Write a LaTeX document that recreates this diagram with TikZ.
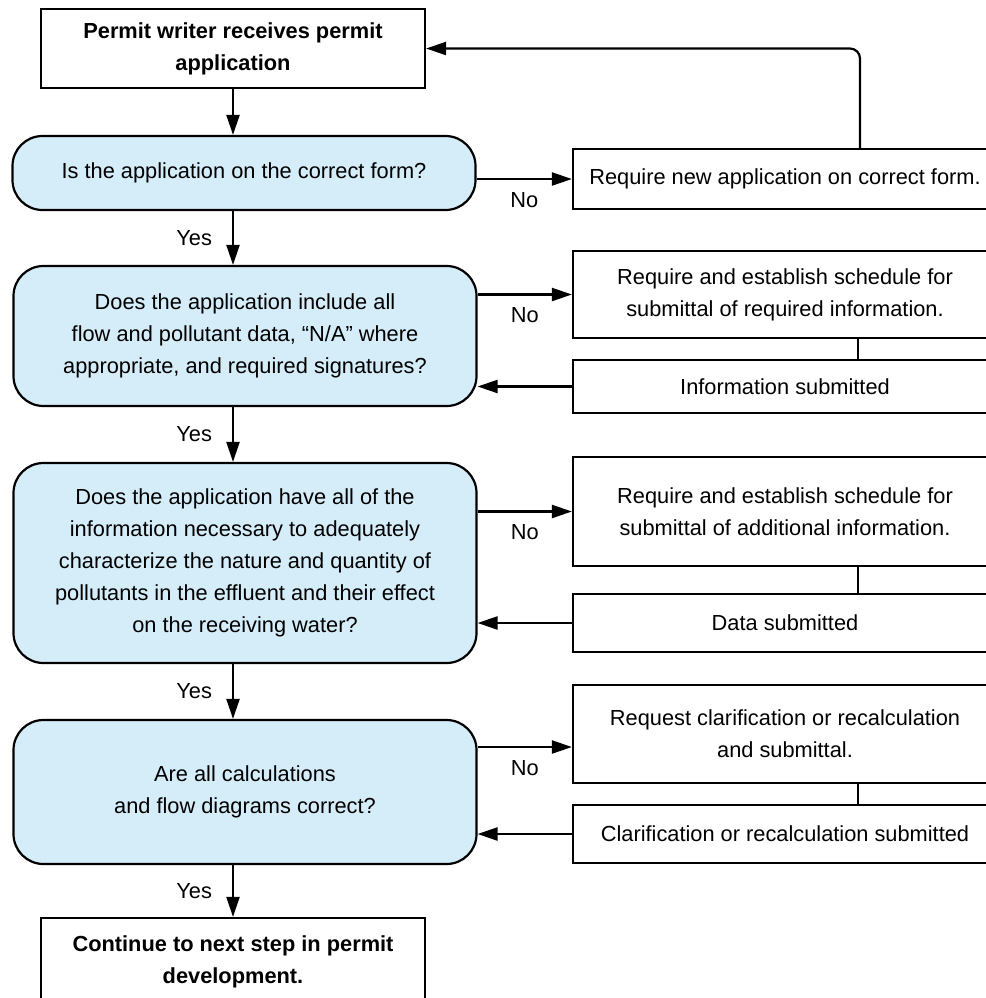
\documentclass[tikz,border=0pt]{standalone}
\usepackage{fontspec}
\setmainfont{Liberation Sans}
\usetikzlibrary{arrows.meta,calc}
\definecolor{qblue}{RGB}{213,237,249}
\begin{document}
\begin{tikzpicture}[x=0.5pt,y=-0.5pt,
  font=\fontsize{10.9}{16}\selectfont,
  every node/.style={inner sep=0pt,align=center},
  box/.style={draw,line width=1.1pt,fill=white},
  boldbox/.style={box,minimum width=192pt,font=\fontsize{10.9}{16}\selectfont\bfseries},
  question/.style={draw,line width=1.1pt,fill=qblue,rounded corners=15pt,minimum width=231.5pt},
  side/.style={box,minimum width=212pt},
  arr/.style={line width=1.1pt,-{Triangle[length=10pt,width=6.5pt]}},
  link/.style={line width=1.1pt},
  lbl/.style={font=\fontsize{10.9}{13}\selectfont,inner sep=2pt}]
\useasboundingbox (0,0) rectangle (986,998);
\clip (0,0) rectangle (986,998);
%\draw [help lines,step=50] (0,0) grid (986,998);
\node[boldbox,minimum height=39.5pt] (recv) at (233,48.5) {Permit writer receives permit\\application};
\node[question,minimum height=37pt] (q1) at (244,173) {Is the application on the correct form?};
\node[side,minimum height=30pt] (newform) at (785,179) {Require new application on correct form.};
\node[question,minimum height=70pt] (q2) at (245,336) {Does the application include all\\flow and pollutant data, “N/A” where\\appropriate, and required signatures?};
\node[side,minimum height=43.5pt] (sched1) at (785,294.5) {Require and establish schedule for\\submittal of required information.};
\node[side,minimum height=26.5pt] (infosub) at (785,386.5) {Information submitted};
\node[question,minimum height=100pt] (q3) at (245,563) {Does the application have all of the\\information necessary to adequately\\characterize the nature and quantity of\\pollutants in the effluent and their effect\\on the receiving water?};
\node[side,minimum height=54.5pt] (sched2) at (785,511.5) {Require and establish schedule for\\submittal of additional information.};
\node[side,minimum height=29pt] (datasub) at (785,623) {Data submitted};
\node[question,minimum height=72pt] (q4) at (245,792) {Are all calculations\\and flow diagrams correct?};
\node[side,minimum height=49pt] (clarify) at (785,734) {Request clarification or recalculation\\and submittal.};
\node[side,minimum height=29pt] (clarsub) at (785,834) {Clarification or recalculation submitted};
\node[boldbox,minimum height=44pt] (next) at (233,962) {Continue to next step in permit\\development.};
% main line
\draw[arr] (recv.south) -- (recv.south |- q1.north);
\draw[arr] (recv.south |- q1.south) -- node[lbl,left=8pt] {Yes} (recv.south |- q2.north);
\draw[arr] (recv.south |- q2.south) -- node[lbl,left=8pt] {Yes} (recv.south |- q3.north);
\draw[arr] (recv.south |- q3.south) -- node[lbl,left=8pt] {Yes} (recv.south |- q4.north);
\draw[arr] (recv.south |- q4.south) -- node[lbl,left=8pt] {Yes} (next.north);
% no branches
\draw[arr] (q1.east |- newform.west) -- node[lbl,below=4pt] {No} (newform.west);
\draw[arr] (q2.east |- sched1.west) -- node[lbl,below=4pt] {No} (sched1.west);
\draw[arr] (q3.east |- sched2.west) -- node[lbl,below=4pt] {No} (sched2.west);
\draw[arr] ($(q4.east |- clarify.west)+(0,13)$) -- node[lbl,below=4pt] {No} ($(clarify.west)+(0,13)$);
% back again
\draw[arr,rounded corners=5pt] ($(newform.north)+(75,0)$) |- (recv.east);
\draw[link] ($(sched1.south)+(73,0)$) -- ($(infosub.north)+(73,0)$);
\draw[link] ($(sched2.south)+(73,0)$) -- ($(datasub.north)+(73,0)$);
\draw[link] ($(clarify.south)+(73,0)$) -- ($(clarsub.north)+(73,0)$);
\draw[arr] (infosub.west) -- (infosub.west -| q2.east);
\draw[arr] (datasub.west) -- (datasub.west -| q3.east);
\draw[arr] (clarsub.west) -- (clarsub.west -| q4.east);
\end{tikzpicture}
\end{document}
